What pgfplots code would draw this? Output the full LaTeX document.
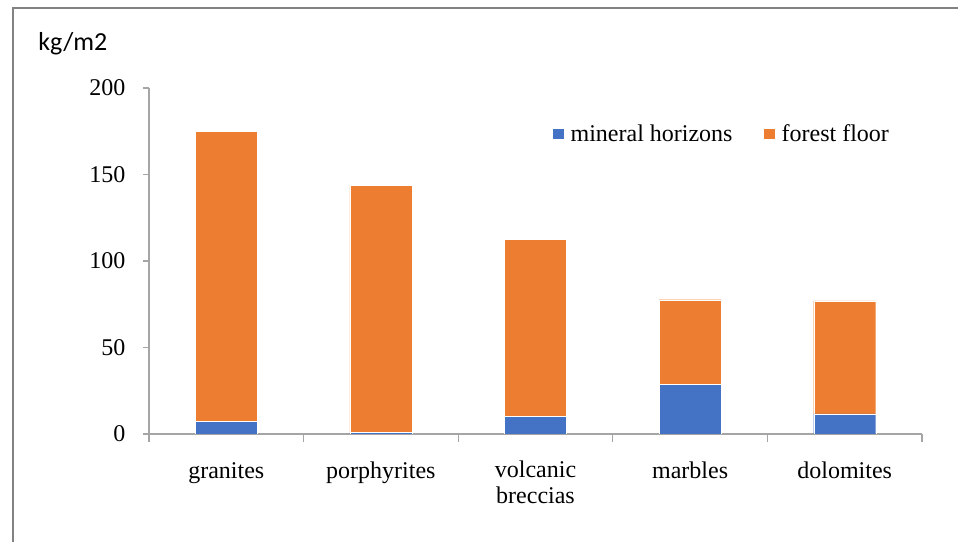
\documentclass[border=0pt]{standalone}
\usepackage{fontspec}
\setmainfont{Liberation Serif}
\newfontfamily\calibri{Carlito}
\usepackage{pgfplots}
\pgfplotsset{compat=1.18}
\definecolor{cblue}{HTML}{4472C4}
\definecolor{corange}{HTML}{ED7D31}
\definecolor{axgray}{RGB}{165,165,165}
\definecolor{frgray}{RGB}{130,130,130}
\begin{document}
\begin{tikzpicture}
\useasboundingbox (0,0) rectangle (718.5pt,406.5pt);
\draw[frgray, line width=1.2pt] (9.75pt,0) -- (9.75pt,400.5pt) -- (718.5pt,400.5pt);
\node[anchor=base west, inner sep=0pt, font=\calibri\fontsize{19.5}{23}\selectfont] at (28.5pt,368.25pt) {kg/m2};
\begin{axis}[
  at={(111.75pt,81pt)}, anchor=south west,
  scale only axis, width=579.75pt, height=259.5pt,
  ybar stacked, bar width=46.5pt,
  xmin=-0.5, xmax=4.5, ymin=0, ymax=200,
  axis x line*=bottom, axis y line*=left,
  axis line style={axgray, line width=0.9pt},
  tick style={axgray, line width=0.9pt},
  tick align=outside,
  xtick={0,1,2,3,4},
  xticklabels={granites, porphyrites, {volcanic\\breccias}, marbles, dolomites},
  major x tick style={draw=none},
  minor xtick={-0.5,0.5,1.5,2.5,3.5,4.5},
  minor tick length=6pt,
  ytick={0,50,100,150,200},
  major tick length=4.5pt,
  /pgf/number format/assume math mode=true,
  ticklabel style={font=\fontsize{18}{19.5}\selectfont},
  xticklabel style={align=center, anchor=north, inner sep=0pt, yshift=-15.5pt,
    execute at begin node={\rule{0pt}{13pt}}},
  yticklabel style={xshift=-9.75pt},
  legend columns=2,
  legend style={draw=none, fill=none, at={(0.5213,0.867)}, anchor=west,
    font=\fontsize{18}{19.5}\selectfont, inner sep=0pt,
    /tikz/every odd column/.append style={column sep=3pt},
    /tikz/every even column/.append style={column sep=21pt}},
  legend image code/.code={\fill[#1] (0pt,-4.25pt) rectangle (8.5pt,4.25pt);},
]
\addplot[fill=cblue, draw=white, line width=0.3pt] coordinates {(0,7.3) (1,1.0) (2,10.4) (3,28.5) (4,11.6)};
\addplot[fill=corange, draw=white, line width=0.3pt] coordinates {(0,167.8) (1,142.8) (2,102.3) (3,49.1) (4,65.3)};
\legend{mineral horizons, forest floor}
\end{axis}
\end{tikzpicture}
\end{document}
